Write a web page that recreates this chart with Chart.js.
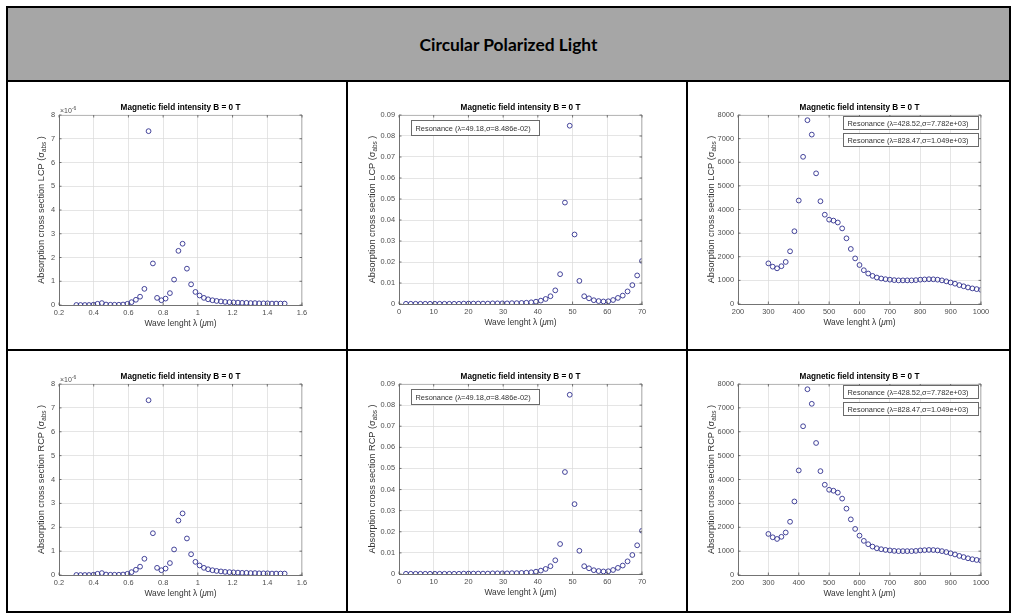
<!DOCTYPE html>
<html>
<head>
<meta charset="utf-8">
<title>Circular Polarized Light</title>
<script src="https://cdn.jsdelivr.net/npm/chart.js@4.4.1/dist/chart.umd.min.js"></script>
<style>
  html, body { margin: 0; padding: 0; background: #fff; }
  body { position: relative; width: 1013px; height: 614px; overflow: hidden; }
  .rule { position: absolute; background: #000; }
  #head { position: absolute; left: 8px; top: 8px; width: 1001px; height: 72px; background: #a6a6a6;
          display: flex; align-items: center; justify-content: center; }
  #headText { font-family: Lato, "Open Sans", sans-serif; font-weight: 700; font-size: 19px; color: #000; white-space: nowrap; }
  canvas { position: absolute; }
</style>
</head>
<body>
<div id="head"><span id="headText">Circular Polarized Light</span></div>
<div class="rule" style="left:6px;top:6px;width:1005px;height:2px"></div>
<div class="rule" style="left:6px;top:80px;width:1005px;height:2px"></div>
<div class="rule" style="left:6px;top:349px;width:1005px;height:2px"></div>
<div class="rule" style="left:6px;top:611px;width:1005px;height:2px"></div>
<div class="rule" style="left:6px;top:6px;width:2px;height:607px"></div>
<div class="rule" style="left:1009px;top:6px;width:2px;height:607px"></div>
<div class="rule" style="left:346px;top:80px;width:2px;height:533px"></div>
<div class="rule" style="left:686px;top:80px;width:2px;height:533px"></div>

<canvas id="c1"></canvas>
<canvas id="c2"></canvas>
<canvas id="c3"></canvas>
<canvas id="c4"></canvas>
<canvas id="c5"></canvas>
<canvas id="c6"></canvas>

<script>
const FONT = '"Liberation Sans", Arial, Helvetica, sans-serif';

// wavelength samples (um), 50 per panel
const visLambda = [0.300, 0.324, 0.349, 0.373, 0.398, 0.422, 0.447, 0.471, 0.496, 0.520,
  0.545, 0.569, 0.594, 0.618, 0.643, 0.667, 0.692, 0.716, 0.741, 0.765,
  0.790, 0.814, 0.839, 0.863, 0.888, 0.912, 0.937, 0.961, 0.986, 1.010,
  1.035, 1.059, 1.084, 1.108, 1.133, 1.157, 1.182, 1.206, 1.231, 1.255,
  1.280, 1.304, 1.329, 1.353, 1.378, 1.402, 1.427, 1.451, 1.476, 1.500];
const midLambda = [2.00, 3.39, 4.78, 6.16, 7.55, 8.94, 10.33, 11.71, 13.10, 14.49,
  15.88, 17.27, 18.65, 20.04, 21.43, 22.82, 24.20, 25.59, 26.98, 28.37,
  29.76, 31.14, 32.53, 33.92, 35.31, 36.69, 38.08, 39.47, 40.86, 42.24,
  43.63, 45.02, 46.41, 47.80, 49.18, 50.57, 51.96, 53.35, 54.73, 56.12,
  57.51, 58.90, 60.29, 61.67, 63.06, 64.45, 65.84, 67.22, 68.61, 70.00];
const farLambda = [300.0, 314.3, 328.6, 342.9, 357.1, 371.4, 385.7, 400.0, 414.3, 428.6,
  442.9, 457.1, 471.4, 485.7, 500.0, 514.3, 528.6, 542.9, 557.1, 571.4,
  585.7, 600.0, 614.3, 628.6, 642.9, 657.1, 671.4, 685.7, 700.0, 714.3,
  728.6, 742.9, 757.1, 771.4, 785.7, 800.0, 814.3, 828.6, 842.9, 857.1,
  871.4, 885.7, 900.0, 914.3, 928.6, 942.9, 957.1, 971.4, 985.7, 1000.0];

// LCP absorption cross section (first panel in units of 1e-6)
const lcpVis = [0, 0, 0, 0, 0.01, 0.05, 0.08, 0.02, 0.01, 0.01,
  0.01, 0.02, 0.05, 0.12, 0.22, 0.35, 0.68, 7.32, 1.75, 0.30,
  0.20, 0.27, 0.50, 1.07, 2.28, 2.58, 1.53, 0.87, 0.55, 0.40,
  0.30, 0.24, 0.20, 0.17, 0.15, 0.13, 0.12, 0.11, 0.10, 0.09,
  0.09, 0.08, 0.08, 0.07, 0.07, 0.07, 0.06, 0.06, 0.06, 0.06];
const lcpMid = [0.0001, 0.0001, 0.0001, 0.0001, 0.0001, 0.0001, 0.0001, 0.0001, 0.0001, 0.0001,
  0.0001, 0.0001, 0.0002, 0.0002, 0.0002, 0.0002, 0.0002, 0.0002, 0.0003, 0.0003,
  0.0003, 0.0003, 0.0004, 0.0004, 0.0005, 0.0006, 0.0008, 0.0011, 0.0016, 0.0024,
  0.0037, 0.0065, 0.0142, 0.0483, 0.0849, 0.0331, 0.0110, 0.0037, 0.0027, 0.0018,
  0.0014, 0.0012, 0.0013, 0.0019, 0.0029, 0.0040, 0.0060, 0.0090, 0.0136, 0.0205];
const lcpFar = [1720, 1580, 1510, 1600, 1780, 2230, 3080, 4380, 6230, 7780,
  7170, 5530, 4350, 3780, 3570, 3530, 3450, 3200, 2780, 2330,
  1930, 1650, 1430, 1290, 1190, 1120, 1080, 1050, 1030, 1010,
  1000, 1000, 1000, 1000, 1010, 1030, 1040, 1049, 1045, 1030,
  1000, 960, 910, 860, 800, 750, 700, 660, 630, 600];

// RCP row reads the same as the LCP row at B = 0 T
const rcpVis = [...lcpVis];
const rcpMid = [...lcpMid];
const rcpFar = [...lcpFar];

// tick labels
const visXTicks = [0.2, 0.4, 0.6, 0.8, 1, 1.2, 1.4, 1.6];
const visYTicks = [0, 1, 2, 3, 4, 5, 6, 7, 8];
const midXTicks = [0, 10, 20, 30, 40, 50, 60, 70];
const midYTicks = [0, 0.01, 0.02, 0.03, 0.04, 0.05, 0.06, 0.07, 0.08, 0.09];
const farXTicks = [200, 300, 400, 500, 600, 700, 800, 900, 1000];
const farYTicks = [0, 1000, 2000, 3000, 4000, 5000, 6000, 7000, 8000];

const midNote = ['Resonance (λ=49.18,σ=8.486e-02)'];
const farNotes = ['Resonance (λ=428.52,σ=7.782e+03)', 'Resonance (λ=828.47,σ=1.049e+03)'];

const TITLE = 'Magnetic field intensity B = 0 T';

// fit the header text to the width it has in the picture
const headText = document.getElementById('headText');
headText.style.fontSize = (19 * 178 / headText.getBoundingClientRect().width) + 'px';

Chart.defaults.font.family = FONT;

const PAD_T = 16, PAD_R = 22, Y_W = 50, X_H = 36, PLOT_W = 243;

const panels = [
  { id: 'c1', left: 59, top: 115, h: 190, x: visLambda, y: lcpVis, xt: visXTicks, yt: visYTicks, pol: 'LCP', exp: true, yOff: 18, notes: [] },
  { id: 'c2', left: 399, top: 115, h: 189, x: midLambda, y: lcpMid, xt: midXTicks, yt: midYTicks, pol: 'LCP', yOff: 27,
    notes: midNote.map(t => ({ dx: 12, dy: 5, w: 128, h: 15, text: t })) },
  { id: 'c3', left: 738, top: 115, h: 189, x: farLambda, y: lcpFar, xt: farXTicks, yt: farYTicks, pol: 'LCP', yOff: 27,
    notes: farNotes.map((t, i) => ({ dx: 105, dy: i ? 18 : 1, w: 135, h: 13, text: t })) },
  { id: 'c4', left: 59, top: 384, h: 191, x: visLambda, y: rcpVis, xt: visXTicks, yt: visYTicks, pol: 'RCP', exp: true, yOff: 18, notes: [] },
  { id: 'c5', left: 399, top: 384, h: 190, x: midLambda, y: rcpMid, xt: midXTicks, yt: midYTicks, pol: 'RCP', yOff: 27,
    notes: midNote.map(t => ({ dx: 12, dy: 5, w: 128, h: 15, text: t })) },
  { id: 'c6', left: 738, top: 384, h: 191, x: farLambda, y: rcpFar, xt: farXTicks, yt: farYTicks, pol: 'RCP', yOff: 27,
    notes: farNotes.map((t, i) => ({ dx: 105, dy: i ? 18 : 1, w: 135, h: 13, text: t })) }
];

function fmt(v) {
  return String(+v.toFixed(6));
}

// MATLAB-style extras: box, inward ticks, title, labels, exponent, text boxes
function matlabLook(p) {
  return {
    id: 'matlabLook',
    afterDraw(chart) {
      const ctx = chart.ctx, a = chart.chartArea;
      const sx = chart.scales.x, sy = chart.scales.y;
      ctx.save();

      ctx.lineWidth = 0.8;
      ctx.strokeStyle = '#a8a8a8';
      ctx.beginPath();
      ctx.moveTo(a.left, a.top + 0.4); ctx.lineTo(a.right, a.top + 0.4);
      ctx.moveTo(a.right - 0.4, a.top); ctx.lineTo(a.right - 0.4, a.bottom);
      ctx.stroke();

      ctx.strokeStyle = '#555';
      ctx.beginPath();
      sx.ticks.forEach(t => {
        const px = sx.getPixelForValue(t.value);
        ctx.moveTo(px, a.bottom); ctx.lineTo(px, a.bottom - 2.5);
        ctx.moveTo(px, a.top); ctx.lineTo(px, a.top + 2.5);
      });
      sy.ticks.forEach(t => {
        const py = sy.getPixelForValue(t.value);
        ctx.moveTo(a.left, py); ctx.lineTo(a.left + 2.5, py);
        ctx.moveTo(a.right, py); ctx.lineTo(a.right - 2.5, py);
      });
      ctx.stroke();

      const cx = (a.left + a.right) / 2;
      ctx.fillStyle = '#000';
      ctx.font = 'bold 8.2px ' + FONT;
      ctx.textAlign = 'center';
      ctx.textBaseline = 'alphabetic';
      ctx.fillText(TITLE, cx, a.top - 5);

      // x label, mu in italics
      ctx.fillStyle = '#333';
      ctx.textAlign = 'left';
      const xs = [['Wave lenght λ (', '8.4px'], ['μ', 'italic 8.4px'], ['m)', '8.4px']];
      let total = 0;
      xs.forEach(s => { ctx.font = s[1] + ' ' + FONT; total += ctx.measureText(s[0]).width; });
      let x = cx - total / 2;
      xs.forEach(s => {
        ctx.font = s[1] + ' ' + FONT;
        ctx.fillText(s[0], x, a.bottom + 21);
        x += ctx.measureText(s[0]).width;
      });

      // y label with subscript
      ctx.save();
      ctx.translate(a.left - p.yOff, (a.top + a.bottom) / 2);
      ctx.rotate(-Math.PI / 2);
      ctx.textBaseline = 'middle';
      const ys = [['Absorption cross section ' + p.pol + ' (σ', '9.2px', 0], ['abs', '6.4px', 2.8], [' )', '9.2px', 0]];
      total = 0;
      ys.forEach(s => { ctx.font = s[1] + ' ' + FONT; total += ctx.measureText(s[0]).width; });
      x = -total / 2;
      ys.forEach(s => {
        ctx.font = s[1] + ' ' + FONT;
        ctx.fillText(s[0], x, s[2]);
        x += ctx.measureText(s[0]).width;
      });
      ctx.restore();

      if (p.exp) {
        ctx.fillStyle = '#4d4d4d';
        ctx.textBaseline = 'alphabetic';
        ctx.font = '7px ' + FONT;
        ctx.fillText('×10', a.left + 1, a.top - 2);
        const w = ctx.measureText('×10').width;
        ctx.font = '5px ' + FONT;
        ctx.fillText('-6', a.left + 1 + w, a.top - 5);
      }

      p.notes.forEach(b => {
        const bx = Math.round(a.left + b.dx) + 0.5, by = Math.round(a.top + b.dy) + 0.5;
        ctx.fillStyle = '#fff';
        ctx.fillRect(bx, by, b.w, b.h);
        ctx.strokeStyle = '#6a6a6a';
        ctx.lineWidth = 1;
        ctx.strokeRect(bx, by, b.w, b.h);
        ctx.fillStyle = '#333';
        ctx.font = '7.4px ' + FONT;
        ctx.textBaseline = 'middle';
        ctx.fillText(b.text, bx + 4, by + b.h / 2 + 0.5);
      });

      ctx.restore();
    }
  };
}

panels.forEach(p => {
  const cv = document.getElementById(p.id);
  cv.width = Y_W + PLOT_W + PAD_R;
  cv.height = PAD_T + p.h + X_H;
  cv.style.left = (p.left - Y_W) + 'px';
  cv.style.top = (p.top - PAD_T) + 'px';

  const tickFont = { family: FONT, size: 7.4 };
  new Chart(cv, {
    type: 'scatter',
    data: {
      datasets: [{
        data: p.x.map((v, i) => ({ x: v, y: p.y[i] })),
        pointStyle: 'circle',
        pointRadius: 2.4,
        pointBorderWidth: 0.9,
        borderColor: '#30308f',
        pointBorderColor: '#30308f',
        backgroundColor: 'rgba(0,0,0,0)',
        pointBackgroundColor: 'rgba(0,0,0,0)',
        showLine: false
      }]
    },
    options: {
      responsive: false,
      animation: false,
      events: [],
      layout: { padding: { left: 0, top: PAD_T, right: PAD_R, bottom: 0 } },
      plugins: { legend: { display: false }, tooltip: { enabled: false }, title: { display: false } },
      scales: {
        x: {
          type: 'linear',
          min: p.xt[0],
          max: p.xt[p.xt.length - 1],
          afterBuildTicks: s => { s.ticks = p.xt.map(v => ({ value: v })); },
          afterFit: s => { s.height = X_H; },
          ticks: { font: tickFont, color: '#4d4d4d', padding: 4, maxRotation: 0, autoSkip: false, callback: fmt },
          grid: { color: '#dadada', lineWidth: 0.7, drawTicks: false },
          border: { color: '#555', width: 0.8 }
        },
        y: {
          type: 'linear',
          min: p.yt[0],
          max: p.yt[p.yt.length - 1],
          afterBuildTicks: s => { s.ticks = p.yt.map(v => ({ value: v })); },
          afterFit: s => { s.width = Y_W; },
          ticks: { font: tickFont, color: '#4d4d4d', padding: 4, autoSkip: false, callback: fmt },
          grid: { color: '#dadada', lineWidth: 0.7, drawTicks: false },
          border: { color: '#555', width: 0.8 }
        }
      }
    },
    plugins: [matlabLook(p)]
  });
});
</script>
</body>
</html>
